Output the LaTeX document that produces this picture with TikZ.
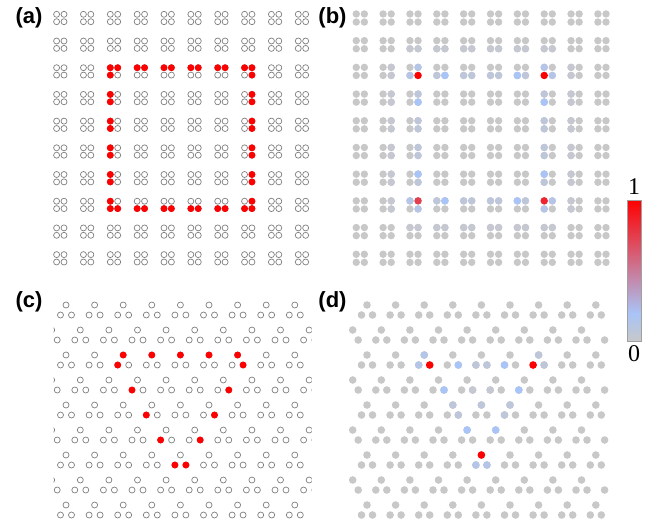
\documentclass[tikz,border=0pt]{standalone}
\usepackage{fontspec}
\setmainfont{Liberation Serif}
\setsansfont{Liberation Sans}
\usetikzlibrary{positioning}
\definecolor{peak}{HTML}{FF0000}
\definecolor{rose}{HTML}{E2404F}
\definecolor{scarlet}{HTML}{F22331}
\definecolor{ice}{HTML}{A9C4F6}
\definecolor{pale}{HTML}{B5C5E8}
\definecolor{haze}{HTML}{BEC6DA}
\definecolor{mist}{HTML}{C5C8D1}
\definecolor{site}{HTML}{C8C8C8}
\definecolor{rim}{HTML}{7F7F7F}
\definecolor{frame}{HTML}{A0A0A0}
\pgfdeclareverticalshading{heat}{100bp}{color(0bp)=(site); color(25bp)=(site);
  color(35bp)=(ice); color(75bp)=(peak); color(100bp)=(peak)}
\tikzset{
  opendot/.style={draw=rim, line width=0.7pt, radius=3pt},
  fulldot/.style={fill=site},
  hotdot/.style={fill=peak},
  warmdot/.style={fill=rose},
  scarletdot/.style={fill=scarlet},
  icedot/.style={fill=ice},
  paledot/.style={fill=pale},
  hazedot/.style={fill=haze},
  mistdot/.style={fill=mist},
  panel/.style={font=\sffamily\bfseries\fontsize{22}{26}\selectfont},
  barlabel/.style={font=\fontsize{24}{28}\selectfont, inner sep=2pt},
  colorbar/.style={draw=frame, line width=0.6pt, shading=heat, inner sep=0pt,
    minimum width=14pt, minimum height=141.7pt},
}
% square plaquettes: style, x shift, column, row, sign x, sign y
\newcommand{\sqsite}[6]{%
  \path[#1] ({#2+60.3+26.85*#3+\sqgap*#5},{18+26.7*#4+\sqgap*#6}) circle;}
% triangle plaquettes: style, x shift, row, triangle, corner (0 top, 1 left, 2 right)
\newcommand{\kagsite}[5]{%
  \ifcase#5 \def\kdx{0}\def\kdy{-6.5}\or \def\kdx{-5.5}\def\kdy{3.5}\or \def\kdx{5.5}\def\kdy{3.5}\fi
  \pgfmathsetmacro{\kx}{66+28.6*#4-14.3*mod(#3,2)+\kdx}
  \pgfmathsetmacro{\ky}{311.5+25*#3+\kdy}
  \ifdim\kx pt>\kagmin pt \ifdim\kx pt<\kagmax pt
    \path[#1] ({#2+\kx},\ky) circle;
  \fi\fi}

\begin{document}
\begin{tikzpicture}[x=1pt, y=-1pt]
  \path[fill=white, use as bounding box] (0,0) rectangle (660,525);

  % (a) square lattice, corner states
  \begin{scope}[radius=3.45pt]
    \def\sqgap{3.7}
    \foreach \i in {0,...,9}
      \foreach \j in {0,...,9}
        \foreach \sx in {-1,1}
          \foreach \sy in {-1,1}
            {\sqsite{opendot}{0}{\i}{\j}{\sx}{\sy}}
    \foreach \i/\j/\sx/\sy in {2/2/-1/-1, 2/2/1/-1, 2/2/-1/1, 7/2/-1/-1, 7/2/1/-1, 7/2/1/1,
        2/7/-1/-1, 2/7/-1/1, 2/7/1/1, 7/7/1/-1, 7/7/-1/1, 7/7/1/1}
      {\sqsite{hotdot}{0}{\i}{\j}{\sx}{\sy}}
    \foreach \n in {3,...,6} {
      \sqsite{hotdot}{0}{\n}{2}{-1}{-1} \sqsite{hotdot}{0}{\n}{2}{1}{-1}
      \sqsite{hotdot}{0}{\n}{7}{-1}{1} \sqsite{hotdot}{0}{\n}{7}{1}{1}
      \sqsite{hotdot}{0}{2}{\n}{-1}{-1} \sqsite{hotdot}{0}{2}{\n}{-1}{1}
      \sqsite{hotdot}{0}{7}{\n}{1}{-1} \sqsite{hotdot}{0}{7}{\n}{1}{1}
    }
  \end{scope}

  % (b) square lattice, weights
  \begin{scope}[radius=3.7pt]
    \def\sqgap{4.05}
    \foreach \i in {0,...,9}
      \foreach \j in {0,...,9}
        \foreach \sx in {-1,1}
          \foreach \sy in {-1,1}
            {\sqsite{fulldot}{300}{\i}{\j}{\sx}{\sy}}
    \foreach \n in {2,...,7} {
      \sqsite{mistdot}{300}{1}{\n}{1}{-1} \sqsite{mistdot}{300}{1}{\n}{1}{1}
      \sqsite{mistdot}{300}{8}{\n}{-1}{-1} \sqsite{mistdot}{300}{8}{\n}{-1}{1}
      \sqsite{mistdot}{300}{\n}{1}{-1}{1} \sqsite{mistdot}{300}{\n}{1}{1}{1}
      \sqsite{mistdot}{300}{\n}{8}{-1}{-1} \sqsite{mistdot}{300}{\n}{8}{1}{-1}
    }
    \foreach \n in {3,...,6} {
      \sqsite{hazedot}{300}{\n}{2}{-1}{1} \sqsite{hazedot}{300}{\n}{2}{1}{1}
      \sqsite{hazedot}{300}{\n}{7}{-1}{-1} \sqsite{hazedot}{300}{\n}{7}{1}{-1}
      \sqsite{hazedot}{300}{2}{\n}{1}{-1} \sqsite{hazedot}{300}{2}{\n}{1}{1}
      \sqsite{hazedot}{300}{7}{\n}{-1}{-1} \sqsite{hazedot}{300}{7}{\n}{-1}{1}
    }
    \foreach \i/\j/\sx/\sy in {2/2/1/-1, 2/2/-1/1, 7/2/-1/-1, 7/2/1/1,
        2/7/-1/-1, 2/7/1/1, 7/7/1/-1, 7/7/-1/1}
      {\sqsite{paledot}{300}{\i}{\j}{\sx}{\sy}}
    \foreach \i/\j/\sx/\sy in {3/2/1/1, 6/2/-1/1, 2/3/1/1, 7/3/-1/1,
        2/6/1/-1, 7/6/-1/-1, 3/7/1/-1, 6/7/-1/-1}
      {\sqsite{icedot}{300}{\i}{\j}{\sx}{\sy}}
    \sqsite{hotdot}{300}{2}{2}{1}{1}
    \sqsite{hotdot}{300}{7}{2}{-1}{1}
    \sqsite{warmdot}{300}{2}{7}{1}{-1}
    \sqsite{scarletdot}{300}{7}{7}{-1}{-1}
  \end{scope}

  % (c) breathing kagome, corner states
  \begin{scope}[radius=3.45pt]
    \clip (53.5,290) rectangle (311.5,520);
    \def\kagmin{40}\def\kagmax{318}
    \foreach \row in {0,...,8}
      \foreach \tri in {0,...,9}
        \foreach \cor in {0,1,2}
          {\kagsite{opendot}{0}{\row}{\tri}{\cor}}
    \foreach \row/\tri/\cor in {2/2/0, 2/2/1, 2/3/0, 2/4/0, 2/5/0, 2/6/0, 2/6/2, 3/3/1, 3/6/2,
        4/3/1, 4/5/2, 5/4/1, 5/5/2, 6/4/1, 6/4/2}
      {\kagsite{hotdot}{0}{\row}{\tri}{\cor}}
  \end{scope}

  % (d) breathing kagome, weights
  \begin{scope}[radius=3.8pt]
    \def\kagmin{49}\def\kagmax{306}
    \foreach \row in {0,...,8}
      \foreach \tri in {0,...,9}
        \foreach \cor in {0,1,2}
          {\kagsite{fulldot}{301}{\row}{\tri}{\cor}}
    \foreach \row/\tri/\cor in {3/4/2, 3/5/1}
      {\kagsite{mistdot}{301}{\row}{\tri}{\cor}}
    \foreach \row/\tri/\cor in {2/4/1, 2/4/2, 2/6/0, 2/6/2, 4/3/0, 4/3/2, 4/4/0, 4/5/0, 4/5/1}
      {\kagsite{hazedot}{301}{\row}{\tri}{\cor}}
    \foreach \row/\tri/\cor in {2/2/0, 2/2/1, 6/4/1, 6/4/2}
      {\kagsite{paledot}{301}{\row}{\tri}{\cor}}
    \foreach \row/\tri/\cor in {2/3/2, 2/5/1, 3/3/2, 3/6/1, 5/4/0, 5/5/0}
      {\kagsite{icedot}{301}{\row}{\tri}{\cor}}
    \foreach \row/\tri/\cor in {2/2/2, 2/6/1, 6/4/0}
      {\kagsite{hotdot}{301}{\row}{\tri}{\cor}}
  \end{scope}

  % panel labels
  \node[panel] (la) at (29,17.5) {(a)};
  \node[panel] (lb) at (332.5,17.5) {(b)};
  \node[panel] (lc) at (29,302) {(c)};
  \node[panel] (ld) at (332.5,302) {(d)};

  % colour scale
  \node[colorbar] (bar) at (634,270.85) {};
  \node[barlabel, above=3pt of bar] (one) {1};
  \node[barlabel, below=1pt of bar] (zero) {0};
\end{tikzpicture}
\end{document}
